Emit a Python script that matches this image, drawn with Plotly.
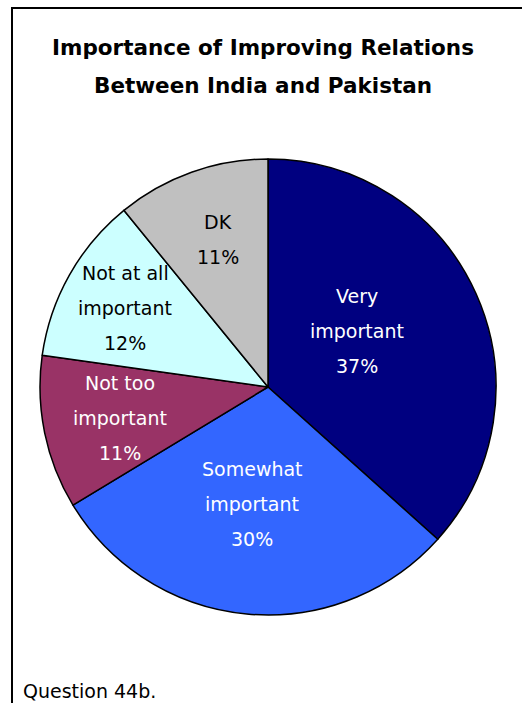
import plotly.graph_objects as go

W, H = 522, 703

labels = ["Very important", "Somewhat important", "Not too important", "Not at all important", "DK"]
values = [37, 30, 11, 12, 11]
colors = ["#000080", "#3366FF", "#993366", "#CCFFFF", "#C0C0C0"]
label_lines = [
    ["Very", "important", "37%"],
    ["Somewhat", "important", "30%"],
    ["Not too", "important", "11%"],
    ["Not at all", "important", "12%"],
    ["DK", "11%"],
]
text_colors = ["white", "white", "white", "black", "black"]

title_lines = ["Importance of Improving Relations", "Between India and Pakistan"]
footer = "Question 44b."


def px(x, y):
    return x / W, 1 - y / H


fig = go.Figure()
fig.add_trace(go.Pie(
    labels=labels,
    values=values,
    sort=False,
    direction="clockwise",
    rotation=0,
    marker=dict(colors=colors, line=dict(color="black", width=1.5)),
    textinfo="none",
    hoverinfo="label+percent",
    domain=dict(x=[40 / W, 496 / W], y=[1 - 615 / H, 1 - 159 / H]),
    showlegend=False,
))

# label centres (px) and line spacing per slice
label_pos = [(357, 296), (252, 469), (120, 383), (125, 273), (218, 222)]
line_gap = 35

annotations = []
for (cx, cy), lines, tc in zip(label_pos, label_lines, text_colors):
    for i, t in enumerate(lines):
        x, y = px(cx, cy + i * line_gap)
        annotations.append(dict(
            x=x, y=y, xref="paper", yref="paper", text=t, showarrow=False,
            font=dict(family="DejaVu Sans", size=19, color=tc),
            xanchor="center", yanchor="middle",
        ))

for i, t in enumerate(title_lines):
    x, y = px(263, 47 + i * 38)
    annotations.append(dict(
        x=x, y=y, xref="paper", yref="paper", text="<b>" + t + "</b>", showarrow=False,
        font=dict(family="DejaVu Sans", size=21.5, color="black"),
        xanchor="center", yanchor="middle",
    ))

x, y = px(21, 691)
annotations.append(dict(
    x=x, y=y, xref="paper", yref="paper", text=footer, showarrow=False,
    font=dict(family="DejaVu Sans", size=19, color="black"),
    xanchor="left", yanchor="middle",
))

fig.update_layout(
    width=W, height=H,
    margin=dict(l=0, r=0, t=0, b=0),
    paper_bgcolor="white",
    plot_bgcolor="white",
    annotations=annotations,
    shapes=[dict(
        type="rect", xref="paper", yref="paper",
        x0=12 / W, x1=1.05, y0=-0.05, y1=1 - 8 / H,
        line=dict(color="black", width=2),
    )],
)

fig.write_html("out.html", config={"displayModeBar": False},
               post_script="document.body.style.margin='0';")
